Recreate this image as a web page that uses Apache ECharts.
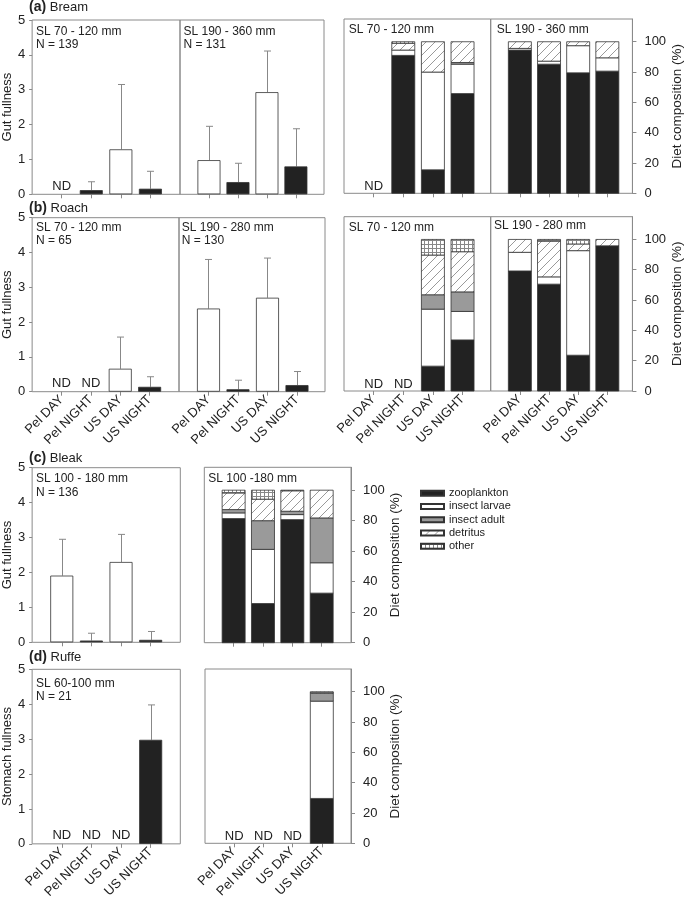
<!DOCTYPE html>
<html><head><meta charset="utf-8">
<script src="https://cdn.jsdelivr.net/npm/echarts@6/dist/echarts.min.js"></script>
<style>html,body{margin:0;padding:0;background:#fff}#c{width:685px;height:901px}</style>
</head><body><div id="c"></div>
<script>
// ---------------- DATA ----------------
const categories = ['Pel DAY', 'Pel NIGHT', 'US DAY', 'US NIGHT'];
const foodTypes = ['zooplankton', 'insect larvae', 'insect adult', 'detritus', 'other'];
const panelLetters = ['(a)', '(b)', '(c)', '(d)'];
const speciesNames = ['Bream', 'Roach', 'Bleak', 'Ruffe'];

// Gut fullness: mean and mean+SD (error bar top); null = ND
const breamSmallMean = [null, 0.12, 1.29, 0.16];
const breamSmallErr  = [null, 0.36, 3.15, 0.66];
const breamLargeMean = [0.98, 0.35, 2.93, 0.80];
const breamLargeErr  = [1.95, 0.89, 4.11, 1.88];
const roachSmallMean = [null, null, 0.66, 0.14];
const roachSmallErr  = [null, null, 1.57, 0.43];
const roachLargeMean = [2.39, 0.07, 2.70, 0.19];
const roachLargeErr  = [3.80, 0.33, 3.84, 0.58];
const bleakMean = [1.91, 0.05, 2.30, 0.07];
const bleakErr  = [2.95, 0.26, 3.09, 0.31];
const ruffeMean = [null, null, null, 2.98];
const ruffeErr  = [null, null, null, 3.98];

// Diet composition (%) per food type, per category; null = ND
const breamSmallZoo = [null, 91.0, 15.5, 65.8];
const breamSmallLarvae = [null, 3.5, 64.5, 19.4];
const breamSmallAdult = [null, 0, 0, 1.1];
const breamSmallDetritus = [null, 4.5, 20.0, 13.7];
const breamSmallOther = [null, 1.0, 0, 0];

const breamLargeZoo = [94.5, 85.2, 79.5, 80.6];
const breamLargeLarvae = [1.1, 2.0, 17.9, 8.8];
const breamLargeAdult = [0, 0, 0, 0];
const breamLargeDetritus = [4.4, 12.8, 2.6, 10.6];
const breamLargeOther = [0, 0, 0, 0];

const roachSmallZoo = [null, null, 16.4, 33.7];
const roachSmallLarvae = [null, null, 37.6, 18.8];
const roachSmallAdult = [null, null, 9.5, 12.9];
const roachSmallDetritus = [null, null, 26.2, 26.5];
const roachSmallOther = [null, null, 10.3, 8.1];

const roachLargeZoo = [79.2, 70.5, 23.6, 95.8];
const roachLargeLarvae = [12.3, 4.8, 69.0, 0];
const roachLargeAdult = [0, 0, 0, 0];
const roachLargeDetritus = [8.5, 23.6, 4.4, 4.2];
const roachLargeOther = [0, 1.1, 3.0, 0];

const bleakZoo = [81.4, 25.7, 80.7, 32.5];
const bleakLarvae = [3.7, 35.5, 3.3, 19.9];
const bleakAdult = [2.2, 18.8, 2.2, 29.4];
const bleakDetritus = [10.9, 14.1, 13.4, 18.2];
const bleakOther = [1.8, 5.9, 0.4, 0];

const ruffeZoo = [null, null, null, 29.6];
const ruffeLarvae = [null, null, null, 64.2];
const ruffeAdult = [null, null, null, 5.3];
const ruffeDetritus = [null, null, null, 0];
const ruffeOther = [null, null, null, 0.9];

const gutTicks = [0, 1, 2, 3, 4, 5];
const dietTicks = [0, 20, 40, 60, 80, 100];

const breamSizeLabels = ['SL 70 - 120 mm', 'SL 190 - 360 mm'];
const breamNLabels = ['N = 139', 'N = 131'];
const roachSizeLabels = ['SL 70 - 120 mm', 'SL 190 - 280 mm'];
const roachNLabels = ['N = 65', 'N = 130'];
const bleakSizeLabels = ['SL 100 - 180 mm', 'SL 100 -180 mm'];
const bleakNLabels = ['N = 136'];
const ruffeSizeLabels = ['SL 60-100 mm'];
const ruffeNLabels = ['N = 21'];

// ---------------- STYLE ----------------
const FONT = '"Liberation Sans", Arial, sans-serif';
const TXT = '#222';
const LINE = '#8a8a8a';
const BORDER = '#333';
const BAR_W = 23;

function hatchCanvas() {
  const c = document.createElement('canvas'); c.width = 9; c.height = 9;
  const g = c.getContext('2d');
  g.fillStyle = '#fff'; g.fillRect(0, 0, 9, 9);
  g.strokeStyle = '#808080'; g.lineWidth = 0.8;
  g.beginPath(); g.moveTo(-1, 10); g.lineTo(10, -1); g.stroke();
  return c;
}
function gridCanvas() {
  const c = document.createElement('canvas'); c.width = 4; c.height = 4;
  const g = c.getContext('2d');
  g.fillStyle = '#fff'; g.fillRect(0, 0, 4, 4);
  g.fillStyle = '#888'; g.fillRect(0, 0, 4, 1); g.fillRect(0, 0, 1, 4);
  return c;
}
const foodColors = ['#222222', '#ffffff', '#9a9a9a',
  { image: hatchCanvas(), repeat: 'repeat' },
  { image: gridCanvas(), repeat: 'repeat' }];

// ---------------- BUILD ----------------
const grids = [], xAxes = [], yAxes = [], series = [], graphics = [];

function addGrid(box, xr, yKind, showXLabels) {
  const gi = grids.length;
  grids.push({ left: box[0], top: box[1], width: box[2], height: box[3], show: true,
    borderColor: LINE, borderWidth: 1, backgroundColor: 'transparent' });
  xAxes.push({ gridIndex: gi, type: 'value', min: xr[0], max: xr[1],
    axisLine: { show: false, onZero: false }, splitLine: { show: false },
    axisTick: { show: true, customValues: [1, 2, 3, 4], length: 4, lineStyle: { color: LINE } },
    axisLabel: { show: showXLabels, customValues: [1, 2, 3, 4], rotate: 45, margin: 6,
      formatter: v => categories[Math.round(v) - 1] || '', fontSize: 13, color: TXT, fontFamily: FONT } });
  const y = { gridIndex: gi, type: 'value', splitLine: { show: false } };
  if (yKind === 'gut' || yKind === 'stomach' || yKind === 'gutHidden') {
    Object.assign(y, { min: 0, max: 5, position: 'left' });
    if (yKind !== 'gutHidden') {
      Object.assign(y, {
        axisLine: { show: false, onZero: false },
        axisTick: { show: true, customValues: gutTicks, length: 3, lineStyle: { color: LINE } },
        axisLabel: { show: true, customValues: gutTicks, margin: 7, fontSize: 13, color: TXT, fontFamily: FONT },
        name: yKind === 'gut' ? 'Gut fullness' : 'Stomach fullness',
        nameLocation: 'middle', nameRotate: 90, nameGap: 15,
        nameTextStyle: { fontSize: 13, color: TXT, fontFamily: FONT } });
    } else y.show = false;
  } else {
    Object.assign(y, { min: 0, max: 115, position: 'right' });
    if (yKind === 'diet') {
      Object.assign(y, {
        axisLine: { show: true, onZero: false, lineStyle: { color: LINE } },
        axisTick: { show: true, customValues: dietTicks, length: 4, lineStyle: { color: LINE } },
        axisLabel: { show: true, customValues: dietTicks, margin: 12, fontSize: 13, color: TXT, fontFamily: FONT },
        name: 'Diet composition (%)', nameLocation: 'middle', nameRotate: 90, nameGap: 36,
        nameTextStyle: { fontSize: 13.5, color: TXT, fontFamily: FONT } });
    } else y.show = false;
  }
  yAxes.push(y);
  return gi;
}

function ndSeries(gi, flags, lift) {
  const d = [];
  flags.forEach((f, i) => { if (f) d.push([i + 1, 0]); });
  if (!d.length) return;
  series.push({ type: 'custom', xAxisIndex: gi, yAxisIndex: gi, silent: true, encode: { x: 0, y: 1 }, data: d,
    renderItem: (params, api) => {
      const p = api.coord([api.value(0), api.value(1)]);
      return { type: 'text', x: p[0], y: p[1] - lift,
        style: { text: 'ND', fill: TXT, font: '13px ' + FONT, align: 'center', verticalAlign: 'middle' } };
    } });
}

function gutPanel(gi, means, errs) {
  series.push({ type: 'bar', xAxisIndex: gi, yAxisIndex: gi, barWidth: BAR_W, silent: true,
    itemStyle: { borderColor: BORDER, borderWidth: 0.8 },
    data: means.map((m, i) => m == null ? null :
      { value: [i + 1, m], itemStyle: { color: i % 2 === 0 ? '#ffffff' : '#222222' } }).filter(Boolean) });
  series.push({ type: 'custom', xAxisIndex: gi, yAxisIndex: gi, silent: true,
    encode: { x: 0, y: 1 },
    data: means.map((m, i) => m == null ? null : [i + 1, m, errs[i]]).filter(Boolean),
    renderItem: (params, api) => {
      const x = api.value(0), m = api.value(1), e = api.value(2);
      const p0 = api.coord([x, m]), p1 = api.coord([x, e]);
      const sx = Math.round(p0[0]) + 0.5;
      const st = { stroke: '#888', lineWidth: 1 };
      return { type: 'group', children: [
        { type: 'line', shape: { x1: sx, y1: p0[1], x2: sx, y2: p1[1] }, style: st },
        { type: 'line', shape: { x1: sx - 3.5, y1: p1[1], x2: sx + 3.5, y2: p1[1] }, style: st }] };
    } });
  ndSeries(gi, means.map(m => m == null), 8);
}

function dietPanel(gi, arrays) {
  const cum = [0, 0, 0, 0];
  arrays.forEach((arr, k) => {
    const d = [];
    arr.forEach((v, i) => {
      if (v != null && v > 0) { d.push([i + 1, cum[i], cum[i] + v]); cum[i] += v; }
    });
    series.push({ type: 'custom', name: foodTypes[k], xAxisIndex: gi, yAxisIndex: gi, silent: true,
      encode: { x: 0, y: [1, 2] }, data: d,
      itemStyle: { color: foodColors[k], borderColor: BORDER, borderWidth: 0.8 },
      renderItem: (params, api) => {
        const x = api.value(0);
        const lo = api.coord([x, api.value(1)]), hi = api.coord([x, api.value(2)]);
        return { type: 'rect',
          shape: { x: lo[0] - BAR_W / 2, y: hi[1], width: BAR_W, height: lo[1] - hi[1] },
          style: { fill: foodColors[k], stroke: BORDER, lineWidth: 0.8 } };
      } });
  });
  ndSeries(gi, arrays[0].map(v => v == null), 7);
}

function txt(x, y, text, size, weight) {
  graphics.push({ type: 'text', x: x, y: y, silent: true,
    style: { text: text, fill: TXT, font: (weight || 'normal') + ' ' + size + 'px ' + FONT, verticalAlign: 'middle' } });
}
function title(idx, y) {
  graphics.push({ type: 'text', x: 29, y: y, silent: true,
    style: { text: '{b|' + panelLetters[idx] + '} ' + speciesNames[idx], fill: TXT, fontSize: 13, fontFamily: FONT,
      verticalAlign: 'middle', rich: { b: { fontWeight: 'bold', fontSize: 14, fontFamily: FONT, fill: TXT } } } });
}

// (a) Bream
let g;
g = addGrid([31, 20, 149, 174.3], [0, 5], 'gut', false); gutPanel(g, breamSmallMean, breamSmallErr);
g = addGrid([180, 20, 144, 174.3], [0, 4.97], 'gutHidden', false); gutPanel(g, breamLargeMean, breamLargeErr);
g = addGrid([344, 19, 146.7, 174.3], [0, 4.95], 'dietHidden', false);
dietPanel(g, [breamSmallZoo, breamSmallLarvae, breamSmallAdult, breamSmallDetritus, breamSmallOther]);
g = addGrid([490.7, 19, 144.3, 174.3], [0, 4.86], 'diet', false);
dietPanel(g, [breamLargeZoo, breamLargeLarvae, breamLargeAdult, breamLargeDetritus, breamLargeOther]);
title(0, 7);
txt(36, 31.7, breamSizeLabels[0], 12); txt(36, 45, breamNLabels[0], 12);
txt(183.5, 31.7, breamSizeLabels[1], 12); txt(183.5, 45, breamNLabels[1], 12);
txt(348.7, 29.3, breamSizeLabels[0], 12); txt(496.7, 29.3, breamSizeLabels[1], 12);

// (b) Roach
g = addGrid([30.5, 217.7, 148.5, 174], [0, 5], 'gut', true); gutPanel(g, roachSmallMean, roachSmallErr);
g = addGrid([179, 217.7, 146, 174], [0, 4.95], 'gutHidden', true); gutPanel(g, roachLargeMean, roachLargeErr);
g = addGrid([344, 216.7, 146.7, 174.3], [0, 4.95], 'dietHidden', true);
dietPanel(g, [roachSmallZoo, roachSmallLarvae, roachSmallAdult, roachSmallDetritus, roachSmallOther]);
g = addGrid([490.7, 216.7, 144.3, 174.3], [0, 4.86], 'diet', true);
dietPanel(g, [roachLargeZoo, roachLargeLarvae, roachLargeAdult, roachLargeDetritus, roachLargeOther]);
title(1, 208);
txt(36, 227.3, roachSizeLabels[0], 12); txt(36, 240.7, roachNLabels[0], 12);
txt(181.7, 227.3, roachSizeLabels[1], 12); txt(181.7, 240.7, roachNLabels[1], 12);
txt(348.7, 227.3, roachSizeLabels[0], 12); txt(494, 226, roachSizeLabels[1], 12);

// (c) Bleak
g = addGrid([31.7, 467.7, 148.6, 174.6], [0, 5], 'gut', false); gutPanel(g, bleakMean, bleakErr);
g = addGrid([204.3, 467.3, 146.7, 175.4], [0, 5], 'diet', false);
dietPanel(g, [bleakZoo, bleakLarvae, bleakAdult, bleakDetritus, bleakOther]);
title(2, 458);
txt(36, 478.3, bleakSizeLabels[0], 12); txt(36, 492.7, bleakNLabels[0], 12);
txt(208.3, 478.3, bleakSizeLabels[1], 12);

// (d) Ruffe
g = addGrid([31.7, 669.3, 148.6, 175], [0, 5], 'stomach', true); gutPanel(g, ruffeMean, ruffeErr);
g = addGrid([205, 669, 146, 174.3], [0, 5], 'diet', true);
dietPanel(g, [ruffeZoo, ruffeLarvae, ruffeAdult, ruffeDetritus, ruffeOther]);
title(3, 657);
txt(36, 683.3, ruffeSizeLabels[0], 12); txt(36, 696.7, ruffeNLabels[0], 12);

const chart = echarts.init(document.getElementById('c'), null, { renderer: 'canvas' });
chart.setOption({
  animation: false,
  backgroundColor: '#fff',
  textStyle: { fontFamily: FONT },
  grid: grids, xAxis: xAxes, yAxis: yAxes, series: series, graphic: graphics,
  legend: { orient: 'vertical', left: 420, top: 487, itemWidth: 23, itemHeight: 5, itemGap: 1,
    icon: 'rect', selectedMode: false, data: foodTypes, padding: 0,
    textStyle: { fontSize: 11, lineHeight: 12.3, color: TXT, fontFamily: FONT } }
});
</script>
</body></html>
